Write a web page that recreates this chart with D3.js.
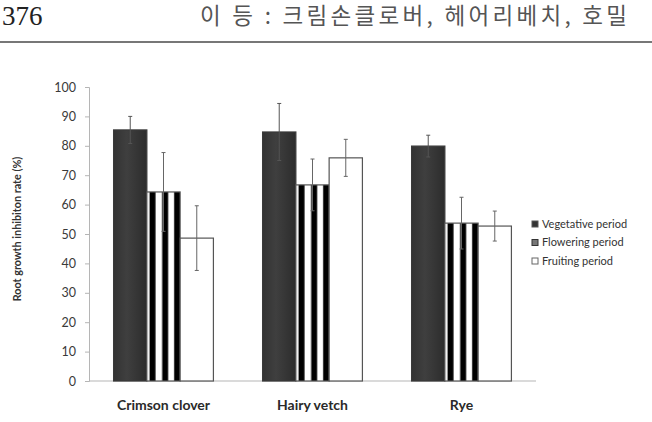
<!DOCTYPE html>
<html><head><meta charset="utf-8">
<script src="https://cdn.jsdelivr.net/npm/d3@7"></script>
<style>html,body{margin:0;padding:0;background:#fff;overflow:hidden}</style>
</head><body>
<svg id="c" width="652" height="422"></svg>
<script>
const categories = ["Crimson clover", "Hairy vetch", "Rye"];
const seriesNames = ["Vegetative period", "Flowering period", "Fruiting period"];
const vegetative = [85.4, 84.7, 79.9];
const vegetativeErr = [4.6, 9.7, 3.7];
const flowering = [64.3, 66.7, 53.7];
const floweringErr = [13.4, 8.8, 8.8];
const fruiting = [48.6, 75.9, 52.7];
const fruitingErr = [11.0, 6.3, 5.1];
const yTicks = [0, 10, 20, 30, 40, 50, 60, 70, 80, 90, 100];
const pageNumber = "376";
const runningHead = "이 등 : 크림손클로버, 헤어리베치, 호밀";
const yTitle = "Root growth inhibiton rate (%)";

const svg = d3.select("#c");
const defs = svg.append("defs");
const grad = defs.append("linearGradient").attr("id", "veg").attr("x1", 0).attr("x2", 1).attr("y1", 0).attr("y2", 0);
grad.append("stop").attr("offset", "0%").attr("stop-color", "#333");
grad.append("stop").attr("offset", "40%").attr("stop-color", "#3f3f3f");
grad.append("stop").attr("offset", "100%").attr("stop-color", "#2c2c2c");
const pat = defs.append("pattern").attr("id", "stripes")
  .attr("patternUnits", "objectBoundingBox").attr("patternContentUnits", "objectBoundingBox")
  .attr("width", 1).attr("height", 1);
pat.append("rect").attr("width", 1).attr("height", 1).attr("fill", "#fff");
[[0.08, 0.26], [0.46, 0.64], [0.82, 1.0]].forEach(s =>
  pat.append("rect").attr("x", s[0]).attr("width", s[1] - s[0]).attr("height", 1).attr("fill", "#000"));

// header
svg.append("text").attr("x", 2).attr("y", 25).attr("font-family", "Liberation Serif")
  .attr("font-size", 27).attr("fill", "#222").text(pageNumber);
svg.append("text").attr("x", 200).attr("y", 24).attr("font-family", "Noto Sans CJK KR")
  .attr("font-size", 22.5).attr("textLength", 427).attr("lengthAdjust", "spacing")
  .attr("fill", "#555").text(runningHead);
svg.append("line").attr("x1", 0).attr("x2", 652).attr("y1", 42).attr("y2", 42)
  .attr("stroke", "#777").attr("stroke-width", 2);

const x0 = d3.scaleBand().domain(categories).range([89, 536]).paddingInner(0.33).paddingOuter(0.165);
const x1 = d3.scaleBand().domain(seriesNames).range([0, x0.bandwidth()]);
const y = d3.scaleLinear().domain([0, 100]).range([381, 87]);

const yAxis = svg.append("g").attr("transform", "translate(89,0)")
  .call(d3.axisLeft(y).tickValues(yTicks).tickSize(4).tickPadding(9));
yAxis.select(".domain").attr("stroke", "#b5b5b5");
yAxis.selectAll(".tick line").attr("stroke", "#b5b5b5");
yAxis.selectAll(".tick text").attr("font-family", "Lato").attr("font-size", 12.5).attr("fill", "#3a3a3a");

svg.append("line").attr("x1", 89).attr("x2", 536).attr("y1", y(0)).attr("y2", y(0))
  .attr("stroke", "#b5b5b5");

const fills = {"Vegetative period": "url(#veg)", "Flowering period": "url(#stripes)", "Fruiting period": "#fff"};
const strokes = {"Vegetative period": "#3a3a3a", "Flowering period": "#555", "Fruiting period": "#555"};
const vals = {"Vegetative period": vegetative, "Flowering period": flowering, "Fruiting period": fruiting};
const errs = {"Vegetative period": vegetativeErr, "Flowering period": floweringErr, "Fruiting period": fruitingErr};

const rows = [];
categories.forEach((c, i) => seriesNames.forEach(s => rows.push({c, s, v: vals[s][i], e: errs[s][i]})));

svg.append("g").selectAll("rect").data(rows).join("rect")
  .attr("x", d => x0(d.c) + x1(d.s))
  .attr("y", d => y(d.v))
  .attr("width", x1.bandwidth())
  .attr("height", d => y(0) - y(d.v))
  .attr("fill", d => fills[d.s])
  .attr("stroke", d => strokes[d.s]).attr("stroke-width", 1.2);

const eb = svg.append("g").selectAll("g").data(rows).join("g")
  .attr("stroke", d => d.s === "Vegetative period" ? "#555" : "#666").attr("stroke-width", 1);
eb.append("line")
  .attr("x1", d => x0(d.c) + x1(d.s) + x1.bandwidth() / 2)
  .attr("x2", d => x0(d.c) + x1(d.s) + x1.bandwidth() / 2)
  .attr("y1", d => y(d.v + d.e)).attr("y2", d => y(d.v - d.e));
[1, -1].forEach(k => eb.append("line")
  .attr("x1", d => x0(d.c) + x1(d.s) + x1.bandwidth() / 2 - 2)
  .attr("x2", d => x0(d.c) + x1(d.s) + x1.bandwidth() / 2 + 2)
  .attr("y1", d => y(d.v + k * d.e)).attr("y2", d => y(d.v + k * d.e)));

svg.append("g").selectAll("text").data(categories).join("text")
  .attr("x", d => x0(d) + x0.bandwidth() / 2).attr("y", 410)
  .attr("text-anchor", "middle").attr("font-family", "Lato").attr("font-weight", "bold")
  .attr("font-size", 14).attr("fill", "#2a2a2a").text(d => d);

svg.append("text").attr("transform", "translate(21,229) rotate(-90)")
  .attr("text-anchor", "middle").attr("font-family", "Lato").attr("font-weight", "bold")
  .attr("font-size", 10.8).attr("fill", "#333").text(yTitle);

// legend
const legY = d3.scalePoint().domain(seriesNames).range([224, 261]);
const lg = svg.append("g").selectAll("g").data(seriesNames).join("g")
  .attr("transform", d => `translate(532,${legY(d)})`);
lg.append("rect").attr("x", 0).attr("y", -3).attr("width", 6).attr("height", 6)
  .attr("fill", (d, i) => ["#333", "#777", "#fff"][i])
  .attr("stroke", (d, i) => ["#555", "#333", "#666"][i]).attr("stroke-width", 1);
lg.append("text").attr("x", 10).attr("y", 3.8).attr("font-family", "Lato")
  .attr("font-size", 11).attr("fill", "#333").text(d => d);
</script>
</body></html>
